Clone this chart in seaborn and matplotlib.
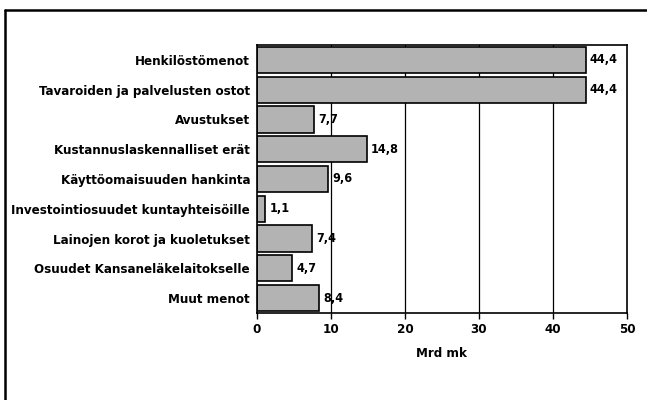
import matplotlib
matplotlib.use("Agg")
import matplotlib.pyplot as plt
import seaborn as sns
import pandas as pd
from matplotlib.lines import Line2D

# Data (Mrd mk)
categories = [
    "Henkilöstömenot",
    "Tavaroiden ja palvelusten ostot",
    "Avustukset",
    "Kustannuslaskennalliset erät",
    "Käyttöomaisuuden hankinta",
    "Investointiosuudet kuntayhteisöille",
    "Lainojen korot ja kuoletukset",
    "Osuudet Kansaneläkelaitokselle",
    "Muut menot",
]
values = [44.4, 44.4, 7.7, 14.8, 9.6, 1.1, 7.4, 4.7, 8.4]
x_ticks = [0, 10, 20, 30, 40, 50]

df = pd.DataFrame({"category": categories, "value": values})

sns.set_style("white")
plt.rcParams["font.family"] = ["DejaVu Sans"]
plt.rcParams["font.stretch"] = "condensed"
plt.rcParams["font.weight"] = "bold"
plt.rcParams["text.color"] = "black"
plt.rcParams["xtick.color"] = "black"
plt.rcParams["ytick.color"] = "black"
plt.rcParams["axes.labelcolor"] = "black"

fig = plt.figure(figsize=(6.47, 4.0), dpi=100)
ax = fig.add_axes([257 / 647, 1 - 313 / 400, 370 / 647, 268 / 400])

# vertical grid lines behind the bars
for t in x_ticks[1:-1]:
    ax.axvline(t, color="black", lw=0.9, zorder=0)

sns.barplot(data=df, x="value", y="category", orient="h", ax=ax,
            color="#b3b3b3", edgecolor="black", linewidth=1.2,
            width=0.88, saturation=1, zorder=2)

for i, v in enumerate(values):
    ax.text(v + 0.6, i, f"{v:.1f}".replace(".", ","), va="center", ha="left",
            fontsize=9, fontweight="bold", zorder=3)

ax.set_xlim(0, 50)
ax.set_xticks(x_ticks)
ax.set_xticklabels([str(t) for t in x_ticks], fontsize=9.5, fontweight="bold")
ax.tick_params(axis="x", length=4, width=1, direction="out", bottom=True, pad=3)
ax.tick_params(axis="y", length=0, labelsize=9.5, pad=5)
for lbl in ax.get_yticklabels():
    lbl.set_fontweight("bold")
ax.set_ylabel("")
ax.set_xlabel("Mrd mk", fontsize=9.5, fontweight="bold", labelpad=8)
for s in ax.spines.values():
    s.set_color("black")
    s.set_linewidth(1.2)
    s.set_visible(True)

# outer frame (left and top edges visible in the scan)
fig.add_artist(Line2D([5 / 647, 5 / 647], [0, 1 - 10 / 400], transform=fig.transFigure,
                      color="black", lw=1.8))
fig.add_artist(Line2D([5 / 647, 1], [1 - 10 / 400, 1 - 10 / 400], transform=fig.transFigure,
                      color="black", lw=1.8))

fig.savefig("out.png", dpi=100)
